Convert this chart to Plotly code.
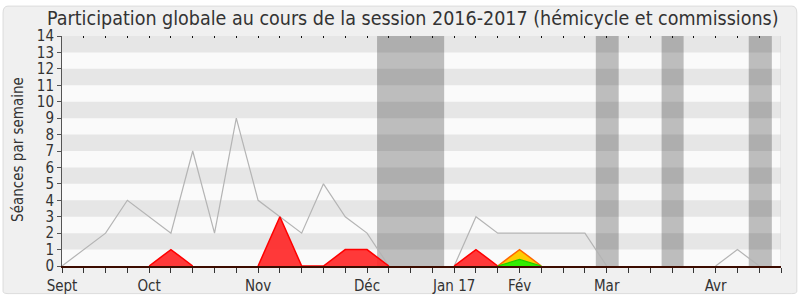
import plotly.graph_objects as go

# ---- data ----
weeks = list(range(34))
total = [0, 1, 2, 4, 3, 2, 7, 2, 9, 4, 3, 2, 5, 3, 2, 0, 0, 0, 0, 3, 2, 2, 2, 2, 2, 0, 0, 0, 0, 0, 0, 1, 0, 0]
red = [0, 0, 0, 0, 0, 1, 0, 0, 0, 0, 3, 0, 0, 1, 1, 0, 0, 0, 0, 1, 0, 0, 0, 0, 0, 0, 0, 0, 0, 0, 0, 0, 0, 0]
yellow = [0] * 21 + [1] + [0] * 12
green = [0] * 21 + [0.4] + [0] * 12
month_weeks = [0, 4, 9, 14, 18, 21, 25, 30]
month_labels = ["Sept", "Oct", "Nov", "Déc", "Jan 17", "Fév", "Mar", "Avr"]
holidays = [(14.46, 17.54), (24.5, 25.55), (27.52, 28.53), (31.52, 32.58)]
y_max = 14
x_max = 33

FONT = "DejaVu Sans Condensed"


def masked(s):
    """Keep only the parts of a series that leave the zero baseline (for outline drawing)."""
    n = len(s)
    out = []
    for i, v in enumerate(s):
        keep = v != 0 or (i > 0 and s[i - 1] != 0) or (i < n - 1 and s[i + 1] != 0)
        out.append(v if keep else None)
    return out


fig = go.Figure()

fig.add_trace(go.Scatter(x=weeks, y=masked(total), mode="lines", connectgaps=False,
                         line=dict(color="#b4b4b4", width=1.2), hoverinfo="skip"))
for s, fc in [(red, "rgba(255,40,40,0.92)"), (yellow, "#ffcc00"), (green, "#33ee00")]:
    fig.add_trace(go.Scatter(x=weeks, y=s, mode="lines", fill="tozeroy", fillcolor=fc,
                             line=dict(width=0), hoverinfo="skip"))
for s, lc, w in [(red, "#ff0000", 1.5), (yellow, "#ff6600", 1.5), (green, "#22cc00", 1.2)]:
    fig.add_trace(go.Scatter(x=weeks, y=masked(s), mode="lines", connectgaps=False,
                             line=dict(color=lc, width=w), hoverinfo="skip"))

shapes = []
shapes.append(dict(type="path", xref="paper", yref="paper", layer="below",
                   path="M -0.075,1.13 L 1.015,1.13 Q 1.022,1.13 1.022,1.10 L 1.022,-0.11 Q 1.022,-0.12 1.015,-0.12 "
                        "L -0.075,-0.12 Q -0.082,-0.12 -0.082,-0.11 L -0.082,1.10 Q -0.082,1.13 -0.075,1.13 Z",
                   fillcolor="#f0f0f0", line=dict(color="#dcdcdc", width=1)))
shapes.append(dict(type="rect", xref="x", yref="y", layer="below", x0=0, x1=x_max, y0=0, y1=y_max,
                   fillcolor="#fafafa", line=dict(width=0)))
for a, b in holidays:
    shapes.append(dict(type="rect", xref="x", yref="y", layer="below", x0=a, x1=b, y0=0, y1=y_max,
                       fillcolor="#bdbdbd", line=dict(width=0)))
for k in range(1, y_max, 2):
    shapes.append(dict(type="rect", xref="x", yref="y", layer="below", x0=0, x1=x_max, y0=k, y1=k + 1,
                       fillcolor="rgba(0,0,0,0.08)", line=dict(width=0)))
shapes.append(dict(type="line", xref="x", yref="y", layer="below", x0=x_max, x1=x_max, y0=0, y1=y_max,
                   line=dict(color="#d8d8d8", width=1)))

ticktext = [month_labels[month_weeks.index(w)] if w in month_weeks else "" for w in weeks]

fig.update_layout(
    template="none",
    width=800, height=300,
    margin=dict(l=62, r=19, t=36, b=34, pad=0),
    paper_bgcolor="#ffffff",
    plot_bgcolor="rgba(0,0,0,0)",
    showlegend=False,
    shapes=shapes,
    title=dict(text="Participation globale au cours de la session 2016-2017 (hémicycle et commissions)",
               x=0.516, xanchor="center", y=0.962, yanchor="top", yref="container",
               font=dict(family=FONT, size=19.5, color="#333333")),
    xaxis=dict(range=[0, x_max], tickmode="array", tickvals=weeks, ticktext=ticktext, automargin=False,
               ticks="outside", ticklen=5, tickcolor="#333333", tickwidth=1,
               showgrid=False, zeroline=False, showline=True, linecolor="#3c0c00", linewidth=1.5,
               tickfont=dict(family=FONT, size=15, color="#333333"), fixedrange=True),
    xaxis2=dict(range=[0, x_max], overlaying="x", side="top", tickmode="array", tickvals=weeks,
                showticklabels=False, ticks="inside", ticklen=2, tickcolor="#111111", automargin=False,
                showgrid=False, zeroline=False, showline=False),
    yaxis=dict(range=[0, y_max], tickmode="linear", tick0=0, dtick=1, automargin=False,
               ticks="outside", ticklen=4, tickcolor="#555555",
               showgrid=False, zeroline=False, showline=True, linecolor="#555555", linewidth=1,
               tickfont=dict(family=FONT, size=15, color="#333333"), fixedrange=True),
    annotations=[dict(text="Séances par semaine", xref="paper", yref="paper",
                      x=-44 / 718.7, y=0.509, xanchor="center", yanchor="middle", textangle=-90,
                      showarrow=False, font=dict(family=FONT, size=15, color="#333333"))],
)
fig.add_trace(go.Scatter(x=[0], y=[0], xaxis="x2", mode="markers", marker=dict(opacity=0),
                         hoverinfo="skip"))

fig.write_html("out.html")
